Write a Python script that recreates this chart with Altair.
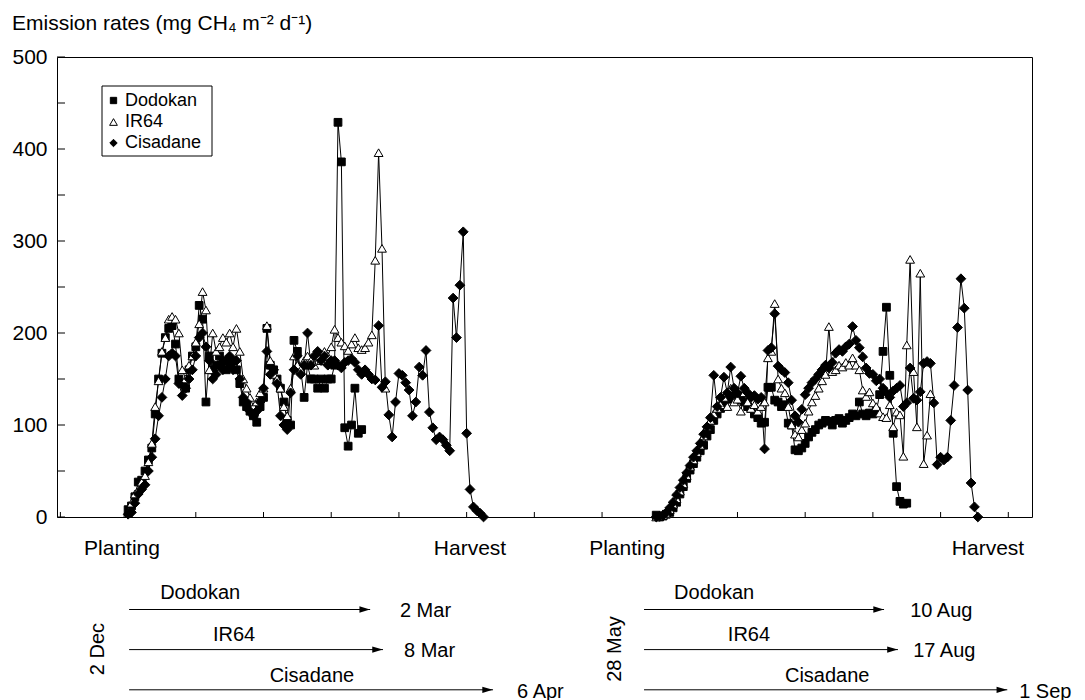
import altair as alt
import pandas as pd

# ---------------- data ----------------
series_names = ["Dodokan", "IR64", "Cisadane"]
season1_start = 20
season2_start = 176

dodokan_s1 = [8, 12, 22, 38, 40, 50, 62, 75, 112, 150,
              178, 195, 205, 208, 188, 150, 145, 140, 160, 175,
              185, 230, 215, 125, 175, 160, 165, 175, 170, 160,
              165, 170, 160, 145, 125, 120, 115, 110, 103, 120,
              130, 205, 165, 160, 150, 140, 125, 105, 100, 192,
              180, 160, 130, 165, 150, 150, 140, 150, 140, 150,
              150, 165, 429, 386, 97, 77, 100, 140, 91, 95]
ir64_s1 = [5, 15, 25, 30, 38, 45, 60, 80, 120, 148,
           180, 195, 215, 218, 215, 200, 160, 150, 165, 175,
           190, 210, 245, 225, 160, 200, 180, 185, 195, 190,
           200, 185, 205, 180, 150, 140, 130, 120, 125, 135,
           140, 208, 170, 155, 150, 140, 120, 110, 140, 175,
           165, 160, 170, 175, 170, 165, 175, 170, 180, 175,
           185, 204, 195, 190, 186, 181, 188, 195, 184, 182,
           184, 190, 198, 279, 396, 292, 140]
cisadane_s1 = [3, 5, 15, 25, 30, 35, 50, 65, 85, 110,
               130, 150, 175, 178, 175, 145, 132, 140, 150, 160,
               175, 195, 200, 185, 170, 150, 155, 165, 160, 170,
               175, 160, 170, 150, 130, 125, 115, 110, 115, 125,
               140, 180, 155, 160, 145, 110, 100, 95, 135, 160,
               175, 155, 165, 200, 165, 175, 180, 170, 175, 165,
               170, 170, 165, 162, 168, 170, 172, 168, 160, 155,
               160, 155, 150, 149, 208, 141, 147, 111, 87, 125,
               156, 154, 146, 138, 110, 125, 163, 154, 181, 114,
               97, 84, 87, 84, 78, 72, 238, 195, 252, 310,
               91, 30, 11, 7, 4, 0]
dodokan_s2 = [2, 0, 1, 3, 5, 10, 16, 25, 33, 42,
              51, 58, 65, 72, 78, 88, 95, 105, 112, 118,
              125, 130, 128, 135, 132, 128, 125, 120, 118, 112,
              108, 102, 103, 141, 141, 127, 125, 120, 122, 102,
              100, 73, 72, 75, 80, 87, 92, 95, 100, 102,
              105, 104, 100, 105, 107, 102, 105, 108, 112, 110,
              125, 112, 110, 113, 112, 115, 133, 180, 228, 154,
              91, 33, 17, 14, 15]
ir64_s2 = [0, 1, 2, 4, 8, 14, 20, 28, 36, 45,
           55, 62, 70, 78, 88, 98, 105, 112, 118, 122,
           130, 120, 140, 125, 128, 115, 135, 125, 118, 122,
           115, 120, 125, 173, 180, 232, 150, 140, 135, 120,
           100, 90, 87, 95, 102, 115, 125, 132, 140, 148,
           155, 207, 158, 160, 165, 163, 168, 165, 173, 165,
           160, 138, 131, 136, 124, 120, 113, 109, 108, 122,
           98, 114, 111, 66, 187, 280, 158, 98, 265, 58, 89, 134]
cisadane_s2 = [0, 1, 2, 5, 10, 16, 24, 32, 40, 48,
               56, 65, 72, 80, 90, 98, 108, 154, 120, 130,
               152, 135, 163, 140, 135, 153, 140, 135, 130, 132,
               128, 130, 74, 181, 184, 221, 164, 160, 157, 146,
               127, 110, 103, 117, 133, 140, 146, 150, 155, 160,
               165, 162, 168, 178, 182, 180, 185, 188, 207, 192,
               184, 174, 162, 156, 155, 148, 150, 140, 135, 130,
               137, 140, 143, 120, 124, 162, 129, 127, 136, 167,
               169, 167, 124, 57, 65, 62, 65, 105, 143, 206,
               259, 227, 138, 37, 11, 0]

y_tick_values = list(range(0, 501, 50))
y_label_values = [0, 100, 200, 300, 400, 500]
x_tick_values = list(range(0, 281, 20))

stage_labels = ["Planting", "Harvest", "Planting", "Harvest"]
stage_x = [18.2, 121.0, 167.4, 274.0]

arrow_variety = ["Dodokan", "IR64", "Cisadane", "Dodokan", "IR64", "Cisadane"]
arrow_row = [0, 1, 2, 0, 1, 2]
arrow_start = [20.3, 20.3, 20.3, 172.4, 172.4, 172.4]
arrow_end = [91.5, 95.3, 127.8, 243.3, 247.4, 279.7]
arrow_label_x = [41.3, 51.3, 74.3, 193.1, 203.4, 226.5]
end_dates = ["2 Mar", "8 Mar", "6 Apr", "10 Aug", "17 Aug", "1 Sep"]
end_date_x = [100.3, 101.5, 134.9, 251.0, 251.9, 283.2]
sow_dates = ["2 Dec", "28 May"]
sow_x = [11.1, 163.8]

title_text = "Emission rates (mg CH\u2084 m\u207b\u00b2 d\u207b\u00b9)"

# ---------------- styles ----------------
FONT = "Liberation Sans"
W, H = 975, 460
FS = 21
ROW_ARROW_Y = [552.5, 592.6, 632.8]
ROW_LABEL_Y = [536, 578, 619]
ROW_DATE_Y = [554, 594, 635]
STAGE_Y = 492
SOW_Y = 592
ARROW_PATH = "M-1,-0.6L1,0L-1,0.6Z"
SHAPES = ["square", "triangle-up", "diamond"]
FILLS = ["black", "white", "black"]
SIZES = [60, 95, 85]
LEG_SIZES = [40, 60, 55]
LEG_BOX = (45, 155, 29, 99)      # x, x2, y, y2 in px within plot
LEG_SYM_X = 56.5
LEG_TXT_X = 68
LEG_ROW_Y = [43.5, 65, 86]

# ---------------- build tables ----------------
rows = []
def add(series, season, start, vals):
    for i, v in enumerate(vals):
        rows.append({"series": series, "season": season, "u": start + i, "v": v,
                     "key": f"{series}-{season}"})

add("Dodokan", 1, season1_start, dodokan_s1)
add("Dodokan", 2, season2_start, dodokan_s2)
add("IR64", 1, season1_start, ir64_s1)
add("IR64", 2, season2_start, ir64_s2)
add("Cisadane", 1, season1_start, cisadane_s1)
add("Cisadane", 2, season2_start, cisadane_s2)
df = pd.DataFrame(rows)

xs = alt.Scale(domain=[-1, 287], nice=False, zero=False)
ys = alt.Scale(domain=[0, 500], nice=False)
yaxis = alt.Axis(values=y_label_values, ticks=False, domain=False, grid=False, title=None,
                 labelFont=FONT, labelFontSize=FS, labelColor="black", labelPadding=10)

X = alt.X("u:Q", scale=xs, axis=None)
Y = alt.Y("v:Q", scale=ys, axis=yaxis)

lines = alt.Chart(df).mark_line(color="black", strokeWidth=1).encode(
    x=X, y=Y, detail="key:N", order="u:Q")

points = alt.Chart(df).mark_point(filled=True, stroke="black", strokeWidth=1, opacity=1).encode(
    x=X, y=Y,
    shape=alt.Shape("series:N", scale=alt.Scale(domain=series_names, range=SHAPES), legend=None),
    fill=alt.Fill("series:N", scale=alt.Scale(domain=series_names, range=FILLS), legend=None),
    size=alt.Size("series:N", scale=alt.Scale(domain=series_names, range=SIZES), legend=None),
)

ytick_df = pd.DataFrame({"v": y_tick_values})
yticks = alt.Chart(ytick_df).mark_rule(color="black", strokeWidth=1).encode(
    y=Y, x=alt.value(0), x2=alt.value(8))

xtick_df = pd.DataFrame({"u": x_tick_values})
xticks = alt.Chart(xtick_df).mark_rule(color="black", strokeWidth=1).encode(
    x=X, y=alt.value(H), y2=alt.value(H - 5))

title_df = pd.DataFrame({"t": [title_text]})
title = alt.Chart(title_df).mark_text(font=FONT, fontSize=FS, align="left", baseline="alphabetic",
                                      color="black").encode(
    x=alt.value(-45), y=alt.value(-27), text="t:N")

stage_df = pd.DataFrame({"label": stage_labels, "u": stage_x})
stages = alt.Chart(stage_df).mark_text(font=FONT, fontSize=FS, align="center", baseline="middle",
                                       color="black").encode(
    x=X, y=alt.value(STAGE_Y), text="label:N")

sow_df = pd.DataFrame({"label": sow_dates, "u": sow_x})
sows = alt.Chart(sow_df).mark_text(font=FONT, fontSize=20, align="center", baseline="middle",
                                   angle=270, color="black").encode(
    x=X, y=alt.value(SOW_Y), text="label:N")

arrows = pd.DataFrame({"variety": arrow_variety, "row": arrow_row, "start": arrow_start,
                       "end": arrow_end, "label_x": arrow_label_x, "date": end_dates,
                       "date_x": end_date_x})
ann = []
for r in range(3):
    base = alt.Chart(arrows).transform_filter(alt.datum.row == r)
    ann.append(base.mark_rule(color="black", strokeWidth=1).encode(
        x=alt.X("start:Q", scale=xs, axis=None), x2="end:Q", y=alt.value(ROW_ARROW_Y[r])))
    ann.append(base.mark_point(shape=ARROW_PATH, filled=True, color="black", size=110,
                               opacity=1, xOffset=-5.5).encode(
        x=alt.X("end:Q", scale=xs, axis=None), y=alt.value(ROW_ARROW_Y[r])))
    ann.append(base.mark_text(font=FONT, fontSize=20, align="center", baseline="middle",
                              color="black").encode(
        x=alt.X("label_x:Q", scale=xs, axis=None), y=alt.value(ROW_LABEL_Y[r]), text="variety:N"))
    ann.append(base.mark_text(font=FONT, fontSize=20, align="left", baseline="middle",
                              color="black").encode(
        x=alt.X("date_x:Q", scale=xs, axis=None), y=alt.value(ROW_DATE_Y[r]), text="date:N"))

# legend (drawn by hand, entries come from series_names)
box_df = pd.DataFrame({"b": [1]})
legend_layers = [alt.Chart(box_df).mark_rect(fill="white", stroke="black", strokeWidth=1).encode(
    x=alt.value(LEG_BOX[0]), x2=alt.value(LEG_BOX[1]),
    y=alt.value(LEG_BOX[2]), y2=alt.value(LEG_BOX[3]))]
for i, name in enumerate(series_names):
    ldf = pd.DataFrame({"series": [name]})
    legend_layers.append(alt.Chart(ldf).mark_point(
        shape=SHAPES[i], filled=True, fill=FILLS[i], stroke="black", strokeWidth=1,
        size=LEG_SIZES[i], opacity=1).encode(x=alt.value(LEG_SYM_X), y=alt.value(LEG_ROW_Y[i])))
    legend_layers.append(alt.Chart(ldf).mark_text(
        font=FONT, fontSize=18, align="left", baseline="middle", color="black").encode(
        x=alt.value(LEG_TXT_X), y=alt.value(LEG_ROW_Y[i]), text="series:N"))

chart = alt.layer(lines, points, yticks, xticks, title, stages, sows, *ann, *legend_layers).properties(
    width=W, height=H,
    padding={"left": 49, "top": 49, "right": 45, "bottom": 185},
    autosize=alt.AutoSizeParams(type="none"),
    background="white",
).configure_view(stroke="black", strokeWidth=1)

chart.save("out.html", embed_options={"renderer": "svg", "actions": False})
